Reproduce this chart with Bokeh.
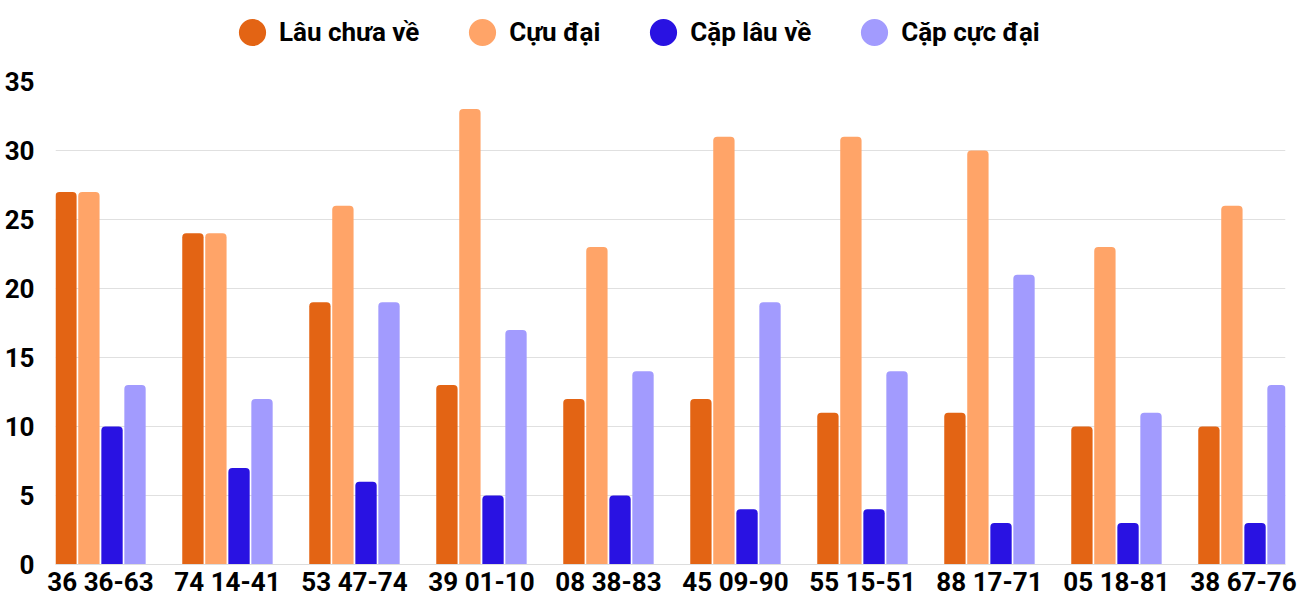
from bokeh.plotting import figure
from bokeh.layouts import column
from bokeh.models import Range1d, FixedTicker, SingleIntervalTicker, ColumnDataSource, Legend, LegendItem
from bokeh.transform import dodge
from bokeh.embed import file_html
from bokeh.resources import INLINE

groups = ["36 36-63", "74 14-41", "53 47-74", "39 01-10", "08 38-83",
          "45 09-90", "55 15-51", "88 17-71", "05 18-81", "38 67-76"]
lau_chua_ve = [27, 24, 19, 13, 12, 12, 11, 11, 10, 10]
cuu_dai = [27, 24, 26, 33, 23, 31, 31, 30, 23, 26]
cap_lau_ve = [10, 7, 6, 5, 5, 4, 4, 3, 3, 3]
cap_cuc_dai = [13, 12, 19, 17, 14, 19, 14, 21, 11, 13]

series = [("Lâu chưa về", "a", "#E36414"),
          ("Cựu đại", "b", "#FFA468"),
          ("Cặp lâu về", "c", "#2912E2"),
          ("Cặp cực đại", "d", "#A29BFE")]

FONT = "Roboto"

src = ColumnDataSource(dict(idx=list(range(len(groups))), a=lau_chua_ve, b=cuu_dai,
                            c=cap_lau_ve, d=cap_cuc_dai))

# ---- legend strip ----
lg = figure(width=1300, height=50, output_backend="svg", toolbar_location=None,
            x_range=Range1d(0, 1), y_range=Range1d(0, 1),
            x_axis_location=None, y_axis_location=None, min_border=0)
lg.outline_line_color = None
lg.grid.grid_line_color = None
lg.background_fill_color = "white"
lg.border_fill_color = "white"

# ---- main chart ----
p = figure(width=1300, height=550, output_backend="svg", toolbar_location=None,
           x_range=Range1d(-0.354, 9.331), y_range=Range1d(0, 35))
p.min_border_left = 55
p.min_border_right = 15
p.min_border_top = 31
p.min_border_bottom = 36
p.outline_line_color = None
p.background_fill_color = "white"
p.border_fill_color = "white"

offsets = [-0.272, -0.091, 0.091, 0.272]
items = []
for (name, col, color), off in zip(series, offsets):
    p.vbar(x=dodge("idx", off), top=col, width=0.168, source=src,
           fill_color=color, line_color=None, border_radius=(4, 4, 0, 0))
    dummy = lg.ellipse(x=[-10], y=[-10], width=27, height=27,
                       width_units="screen", height_units="screen",
                       fill_color=color, line_color=None)
    items.append(LegendItem(label=name, renderers=[dummy]))

legend = Legend(items=items, orientation="horizontal", location=(180, 1),
                label_text_font=FONT, label_text_font_style="bold",
                label_text_font_size="26px", label_text_color="#000000",
                glyph_width=34, glyph_height=34, label_height=34,
                spacing=46, label_standoff=10, padding=0, margin=0,
                border_line_color=None, background_fill_alpha=0)
lg.add_layout(legend)

p.xaxis.ticker = FixedTicker(ticks=list(range(len(groups))))
p.xaxis.major_label_overrides = {i: g for i, g in enumerate(groups)}
p.xaxis.major_label_text_font = FONT
p.xaxis.major_label_text_font_style = "bold"
p.xaxis.major_label_text_font_size = "26px"
p.xaxis.major_label_text_color = "#000000"
p.xaxis.major_tick_line_color = None
p.xaxis.major_tick_out = 0
p.xaxis.major_tick_in = 0
p.xaxis.minor_tick_line_color = None
p.xaxis.minor_tick_out = 0
p.xaxis.axis_line_color = "#dddddd"
p.xaxis.major_label_standoff = 2

p.yaxis.ticker = SingleIntervalTicker(interval=5)
p.yaxis.major_label_text_font = FONT
p.yaxis.major_label_text_font_style = "bold"
p.yaxis.major_label_text_font_size = "26px"
p.yaxis.major_label_text_color = "#000000"
p.yaxis.major_tick_line_color = None
p.yaxis.major_tick_out = 0
p.yaxis.major_tick_in = 0
p.yaxis.minor_tick_line_color = None
p.yaxis.minor_tick_out = 0
p.yaxis.axis_line_color = None
p.yaxis.major_label_standoff = 21

p.xgrid.grid_line_color = None
p.ygrid.grid_line_color = "#e0e0e0"
p.ygrid.grid_line_width = 1

layout = column(lg, p, spacing=0)
open("out.html", "w").write(file_html(layout, INLINE))
